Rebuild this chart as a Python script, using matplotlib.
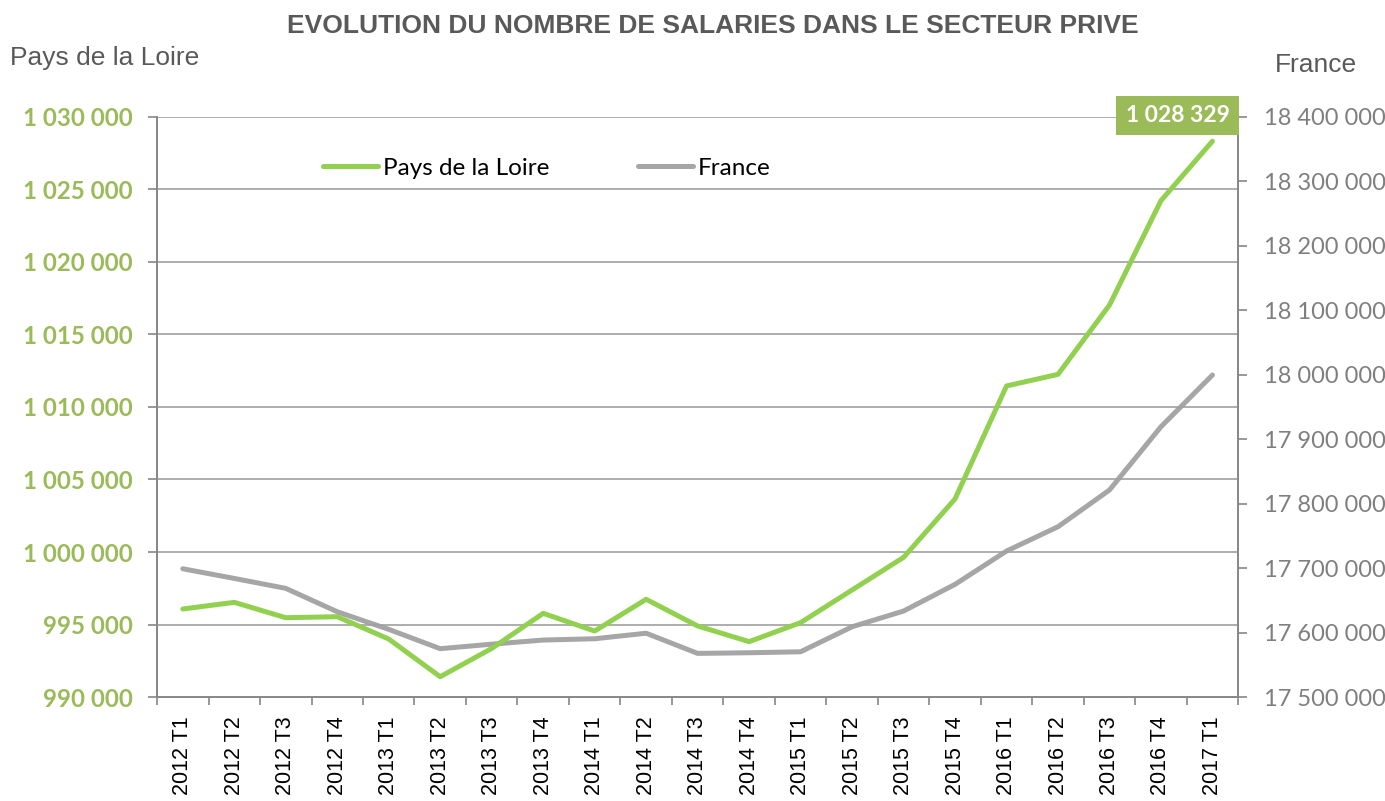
import numpy as np
import matplotlib
matplotlib.use("Agg")
import matplotlib.pyplot as plt
from matplotlib.ticker import FuncFormatter, FixedLocator

trimestres = ["2012 T1", "2012 T2", "2012 T3", "2012 T4",
              "2013 T1", "2013 T2", "2013 T3", "2013 T4",
              "2014 T1", "2014 T2", "2014 T3", "2014 T4",
              "2015 T1", "2015 T2", "2015 T3", "2015 T4",
              "2016 T1", "2016 T2", "2016 T3", "2016 T4",
              "2017 T1"]

pays_de_la_loire = [996070, 996530, 995470, 995540, 994000, 991400, 993350, 995770,
                    994550, 996740, 994900, 993820, 995130, 997380, 999630, 1003660,
                    1011450, 1012250, 1017030, 1024230, 1028329]

france = [17699000, 17684000, 17668600, 17632300, 17605000, 17575000, 17582000, 17588400,
          17590400, 17599000, 17567700, 17568700, 17570200, 17609000, 17633400, 17674800,
          17726500, 17764200, 17821200, 17919400, 17999600]

VERT = "#92D050"
VERT_TXT = "#9BBB59"
GRIS = "#A6A6A6"
GRIS_TXT = "#595959"
AXE = "#868686"
CALIBRI = "Lato"      # pas de Calibri, Lato est le plus proche
ARIAL = "Liberation Sans"


def milliers(v, pos=None):
    return f"{int(round(v)):,}".replace(",", " ")


fig = plt.figure(figsize=(13.85, 8.01), dpi=100)
ax = fig.add_axes([0.1134, 0.1298, 0.7806, 0.7242])
ax2 = ax.twinx()

x = np.arange(len(trimestres))
ax.plot(x, pays_de_la_loire, color=VERT, lw=3.6, solid_capstyle="round", zorder=3,
        label="Pays de la Loire")
ax2.plot(x, france, color=GRIS, lw=3.6, solid_capstyle="round", zorder=3)
# ligne vide pour avoir les deux series dans la meme legende
ax.plot([], [], color=GRIS, lw=3.6, solid_capstyle="round", label="France")

ax.set_zorder(ax2.get_zorder() + 1)
ax.patch.set_visible(False)

ax.set_xlim(-0.5, len(trimestres) - 0.5)
ax.set_ylim(990000, 1030000)
ax2.set_ylim(17500000, 18400000)

# axe gauche
ax.set_yticks(np.arange(990000, 1030001, 5000))
ax.yaxis.set_major_formatter(FuncFormatter(milliers))
for t in ax.get_yticklabels():
    t.set_fontfamily(CALIBRI)
    t.set_fontweight("bold")
    t.set_color(VERT_TXT)
    t.set_fontsize(17.3)
ax.tick_params(axis="y", length=6.5, width=1.2, color=AXE, pad=11)
ax.grid(axis="y", color="#A0A0A0", lw=1.2)

# axe droit
ax2.set_yticks(np.arange(17500000, 18400001, 100000))
ax2.yaxis.set_major_formatter(FuncFormatter(milliers))
ax2.tick_params(axis="y", length=6.5, width=1.2, color=AXE, labelcolor="#7F7F7F",
                pad=12)
for t in ax2.get_yticklabels():
    t.set_fontfamily(CALIBRI)
    t.set_fontsize(17)

# axe x : etiquettes au centre, graduations entre les trimestres
ax.set_xticks(x)
ax.set_xticklabels(trimestres, rotation=90, fontsize=15.5, fontfamily=ARIAL)
ax.tick_params(axis="x", which="major", length=0, pad=14)
ax.xaxis.set_minor_locator(FixedLocator(np.arange(-0.5, len(trimestres), 1)))
ax.tick_params(axis="x", which="minor", length=6, width=1.2, color=AXE)

for a in (ax, ax2):
    a.spines["top"].set_visible(False)
    for side in ("left", "right", "bottom"):
        a.spines[side].set_color(AXE)
        a.spines[side].set_linewidth(1.2)

leg = ax.legend(loc="center left", bbox_to_anchor=(0.1536, 0.912), ncol=2, frameon=False,
                prop={"family": CALIBRI, "size": 17.5}, borderaxespad=0, borderpad=0,
                handlelength=2.26, handletextpad=0.2, columnspacing=3.66)

# etiquette du dernier point
ax.annotate(milliers(pays_de_la_loire[-1]), xy=(x[-1], pays_de_la_loire[-1]),
            xytext=(-35, 26), textcoords="offset pixels", ha="center", va="center",
            fontsize=16.5, fontweight="bold", color="white", fontfamily=CALIBRI,
            bbox=dict(boxstyle="square,pad=0.4", fc=VERT_TXT, ec="none"), zorder=5)

fig.text(0.515, 0.968, "EVOLUTION DU NOMBRE DE SALARIES DANS LE SECTEUR PRIVE",
         ha="center", va="center", fontsize=19, fontweight="bold", color=GRIS_TXT,
         fontfamily=ARIAL)
fig.text(0.007, 0.928, "Pays de la Loire", ha="left", va="center", fontsize=19,
         color=GRIS_TXT, fontfamily=ARIAL)
fig.text(0.98, 0.919, "France", ha="right", va="center", fontsize=19, color=GRIS_TXT,
         fontfamily=ARIAL)

fig.savefig("out.png", dpi=100)
